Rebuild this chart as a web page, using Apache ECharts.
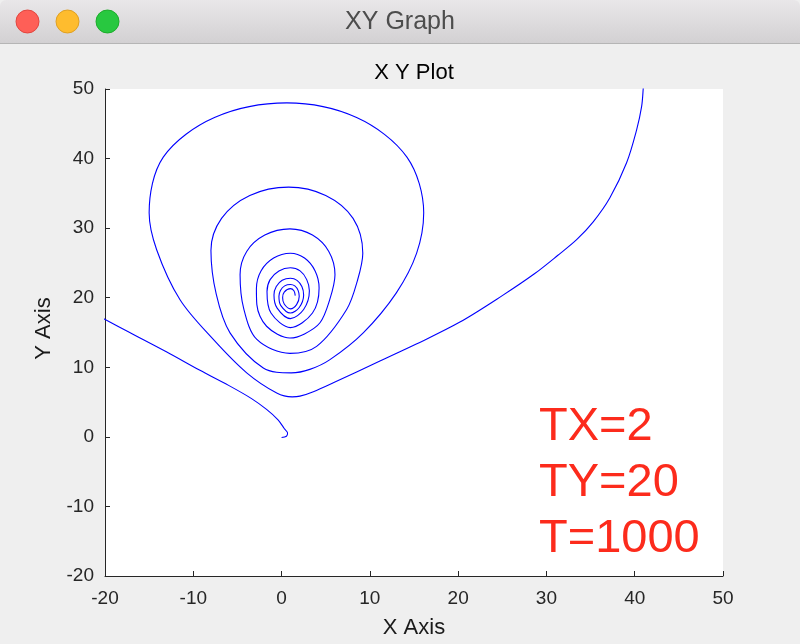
<!DOCTYPE html>
<html>
<head>
<meta charset="utf-8">
<script src="https://cdn.jsdelivr.net/npm/echarts@6/dist/echarts.min.js"></script>
<style>
html,body{margin:0;padding:0;background:#ffffff;}
#chart{width:800px;height:644px;}
</style>
</head>
<body>
<div id="chart"></div>
<script>
// ---- data ----
const windowTitle = 'XY Graph';
const plotTitle = 'X Y Plot';
const xAxisName = 'X Axis';
const yAxisName = 'Y Axis';
const xTicks = [-20, -10, 0, 10, 20, 30, 40, 50];
const yTicks = [-20, -10, 0, 10, 20, 30, 40, 50];
const annotations = ['TX=2', 'TY=20', 'T=1000'];

// branch starting at the origin and leaving the plot on the left
const branchA = [
  [0.0,-0.1],[0.55,0.08],[0.68,0.55],[0.3,1.2],[-0.4,2.45],[-1.7,3.95],[-3.4,5.5],
  [-6.0,7.4],[-9.3,9.6],[-13.0,12.2],[-17.2,15.0],[-20.5,17.2]
];
// branch entering from the top right and spiralling into (1, 20)
const branchB = [
  // entry from the top right down to the lowest point
  [41.0,51.5],[40.96,50],[40.78,47.46],[40.21,44.1],[39.08,39.4],[37.19,34.36],[35.3,30.9],
  [33.42,28.34],[31.3,26.1],[28.6,23.4],[25.0,20.3],[20.2,16.5],[15.2,13.3],[11.14,10.9],
  [5.86,7.78],[3.6,6.5],[2.08,5.85],[1.2,5.75],
  // loop 1
  [-0.55,6.3],[-3.95,9.2],[-7.73,14.0],[-11.5,19.7],[-14.15,26.9],[-15.0,32.2],
  [-13.4,40.2],[-7.6,45.9],[0.6,48.0],[8.5,45.9],[14.2,40.2],[16.1,32.2],
  [15.3,26.4],[13.0,20.7],[9.25,14.95],[5.48,11.1],[3.2,9.7],[1.1,9.2],
  // loop 2
  [-2.07,9.9],[-5.84,14.95],[-7.4,20.5],[-8.0,26.8],[-6.8,31.4],[-3.6,34.7],[0.8,35.9],
  [5.0,34.7],[8.1,31.4],[9.2,26.4],[8.6,22.5],[7.37,18.3],[3.97,13.0],[0.95,12.0],
  // loop 3
  [-2.8,14.0],[-4.3,18.5],[-4.7,23.3],[-3.95,26.65],[-1.9,29.0],[0.95,29.9],
  [3.5,29.0],[5.35,26.65],[6.05,23.3],[5.4,19.5],[4.35,16.4],[2.6,14.8],[0.95,14.2],
  // loop 4
  [-1.7,15.9],[-2.8,19.0],[-2.85,21.3],[-2.33,23.85],[-0.9,25.7],[1.0,26.4],
  [2.6,25.7],[3.8,23.85],[4.25,21.4],[3.5,17.8],[1.0,15.7],
  // loop 5
  [-1.2,17.8],[-1.65,20.9],[-1.3,22.6],[-0.3,23.85],[1.0,24.3],[2.1,23.85],[2.85,22.6],
  [3.15,21.0],[2.5,18.3],[1.0,17.0],
  // loop 6
  [-0.5,18.5],[-0.86,20.4],[-0.6,21.6],[0.07,22.5],[1.0,22.8],[1.75,22.5],[2.3,21.6],
  [2.5,20.4],[2.0,18.6],[1.0,17.8],
  // loop 7
  [-0.1,18.9],[-0.3,20.2],[-0.13,21.05],[0.35,21.7],[1.0,21.9],[1.5,21.7],[1.87,21.05],
  [2.0,20.2],[1.7,19.0],[1.0,18.4],
  // loop 8
  [0.3,19.1],[0.12,20.0],[0.3,20.8],[1.0,21.3],[1.4,21.0],[1.55,20.3]
];

// ---- chart ----
const FONT = '"Liberation Sans", Arial, Helvetica, sans-serif';
const chart = echarts.init(document.getElementById('chart'), null, {renderer: 'canvas'});

const lineStyle = {color: '#0000ff', width: 1.1};
const annotationGraphics = annotations.map((t, i) => ({
  type: 'text', x: 539, y: 427 + i * 56,
  style: {text: t, fill: '#fc2b1c', fontSize: 47, fontFamily: FONT, align: 'left', verticalAlign: 'middle'}
}));

const option = {
  backgroundColor: '#efefef',
  animation: false,
  grid: {left: 105, right: 77, top: 89, bottom: 67, show: true, backgroundColor: '#ffffff', borderWidth: 0, containLabel: false},
  xAxis: {
    type: 'value', min: xTicks[0], max: xTicks[xTicks.length - 1], interval: xTicks[1] - xTicks[0],
    name: xAxisName, nameLocation: 'middle', nameGap: 41,
    nameTextStyle: {fontSize: 22, color: '#1a1a1a', fontFamily: FONT},
    axisLine: {show: true, onZero: false, lineStyle: {color: '#262626', width: 1}},
    axisTick: {show: true, inside: true, length: 5, lineStyle: {color: '#262626'}},
    axisLabel: {fontSize: 19, color: '#262626', fontFamily: FONT, margin: 13},
    splitLine: {show: false}
  },
  yAxis: {
    type: 'value', min: yTicks[0], max: yTicks[yTicks.length - 1], interval: yTicks[1] - yTicks[0],
    name: yAxisName, nameLocation: 'middle', nameGap: 50, nameRotate: 90,
    nameTextStyle: {fontSize: 22, color: '#1a1a1a', fontFamily: FONT, padding: [0, 0, 0, 8]},
    axisLine: {show: true, onZero: false, lineStyle: {color: '#262626', width: 1}},
    axisTick: {show: true, inside: true, length: 5, lineStyle: {color: '#262626'}},
    axisLabel: {fontSize: 19, color: '#262626', fontFamily: FONT, margin: 11},
    splitLine: {show: false}
  },
  graphic: [
    {type: 'rect', shape: {x: 0, y: 0, width: 800, height: 44, r: [6, 6, 0, 0]}, z: 0,
     style: {fill: new echarts.graphic.LinearGradient(0, 0, 0, 1, [{offset: 0, color: '#e9e7e9'}, {offset: 1, color: '#d2d0d2'}])}},
    {type: 'rect', shape: {x: 0, y: 43, width: 800, height: 1}, style: {fill: '#b5b5b5'}},
    {type: 'circle', shape: {cx: 27.5, cy: 21.5, r: 11.5}, style: {fill: '#fe5f57', stroke: '#e2463f', lineWidth: 1}},
    {type: 'circle', shape: {cx: 67.5, cy: 21.5, r: 11.5}, style: {fill: '#febc2e', stroke: '#dfa023', lineWidth: 1}},
    {type: 'circle', shape: {cx: 107.5, cy: 21.5, r: 11.5}, style: {fill: '#28c840', stroke: '#1dac2b', lineWidth: 1}},
    {type: 'text', x: 400, y: 22, style: {text: windowTitle, fill: '#4d4d4d', fontSize: 25, fontFamily: FONT, align: 'center', verticalAlign: 'middle'}},
    {type: 'text', x: 414, y: 72.5, style: {text: plotTitle, fill: '#000000', fontSize: 22, fontFamily: FONT, align: 'center', verticalAlign: 'middle'}}
  ].concat(annotationGraphics),
  series: [
    {type: 'line', data: branchA, smooth: 0.33, showSymbol: false, symbol: 'none', lineStyle: lineStyle, clip: true},
    {type: 'line', data: branchB, smooth: 0.33, showSymbol: false, symbol: 'none', lineStyle: lineStyle, clip: true}
  ]
};
chart.setOption(option);
</script>
</body>
</html>
